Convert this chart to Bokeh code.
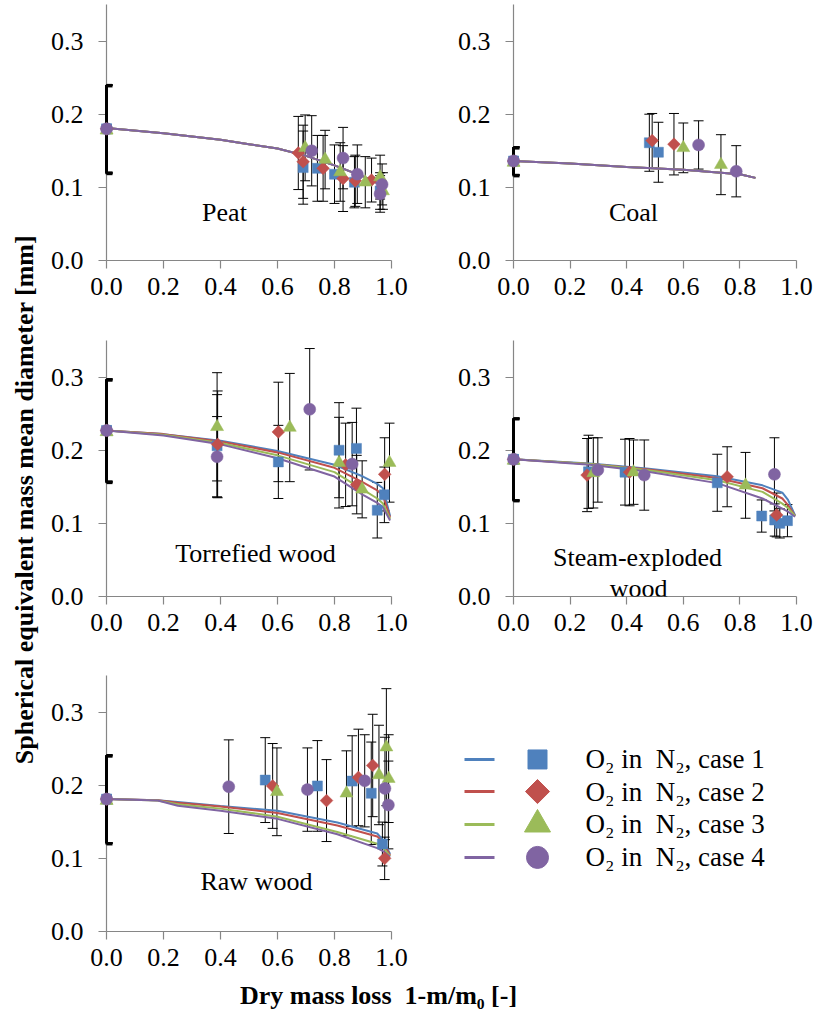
import math
from bokeh.plotting import figure
from bokeh.models import Range1d, FixedTicker, Label, Whisker, TeeHead, ColumnDataSource, NumeralTickFormatter
from bokeh.layouts import row, column
from bokeh.embed import file_html
from bokeh.resources import INLINE
from bokeh.core.properties import value

# ---------------- data ----------------
series_names = ["O\u2082 in\u00a0 N\u2082, case 1", "O\u2082 in\u00a0 N\u2082, case 2",
                "O\u2082 in\u00a0 N\u2082, case 3", "O\u2082 in\u00a0 N\u2082, case 4"]
series_colors = ["#4F81BD", "#C0504D", "#9BBB59", "#8064A2"]
x_ticks = [0.0, 0.2, 0.4, 0.6, 0.8, 1.0]
y_ticks = [0.0, 0.1, 0.2, 0.3]
y_title = "Spherical equivalent mass mean diameter [mm]"
x_title = "Dry mass loss\u00a0 1-m/m\u2080 [-]"

# Peat
peat_x = [[0, 0.69, 0.74, 0.80, 0.87, 0.96],
          [0, 0.673, 0.69, 0.76, 0.83, 0.873, 0.93],
          [0, 0.697, 0.767, 0.82, 0.908, 0.96, 0.97],
          [0, 0.72, 0.83, 0.88, 0.967, 0.96]]
peat_y = [[0.18, 0.127, 0.126, 0.118, 0.107, 0.095],
          [0.18, 0.147, 0.135, 0.126, 0.112, 0.109, 0.11],
          [0.178, 0.154, 0.138, 0.121, 0.107, 0.114, 0.095],
          [0.18, 0.15, 0.14, 0.118, 0.104, 0.091]]
peat_err = [[0.06, 0.05, 0.045, 0.04, 0.035, 0.025],
            [0.06, 0.05, 0.05, 0.045, 0.045, 0.035, 0.03],
            [0.06, 0.045, 0.04, 0.04, 0.035, 0.03, 0.025],
            [0.06, 0.048, 0.042, 0.04, 0.028, 0.025]]
peat_line_x = [0, 0.2, 0.4, 0.5, 0.6, 0.7, 0.8, 0.9, 0.97]
peat_line_y = [[0.181, 0.174, 0.165, 0.159, 0.153, 0.143, 0.130, 0.115, 0.102],
               [0.181, 0.174, 0.165, 0.159, 0.153, 0.143, 0.130, 0.115, 0.102],
               [0.181, 0.174, 0.165, 0.159, 0.153, 0.143, 0.130, 0.115, 0.102],
               [0.181, 0.174, 0.165, 0.159, 0.153, 0.143, 0.130, 0.115, 0.102]]

# Coal
coal_x = [[0, 0.48, 0.512], [0, 0.49, 0.567], [0, 0.60, 0.733], [0, 0.654, 0.787]]
coal_y = [[0.136, 0.161, 0.148], [0.136, 0.164, 0.159], [0.134, 0.154, 0.131], [0.136, 0.158, 0.122]]
coal_err = [[0.019, 0.039, 0.041], [0.019, 0.037, 0.042], [0.019, 0.034, 0.041], [0.019, 0.033, 0.035]]
coal_line_x = [0, 0.2, 0.4, 0.6, 0.8, 0.855]
coal_line_y = [[0.136, 0.1325, 0.128, 0.124, 0.118, 0.113],
               [0.136, 0.1325, 0.128, 0.124, 0.118, 0.113],
               [0.136, 0.1325, 0.128, 0.124, 0.118, 0.113],
               [0.136, 0.1325, 0.128, 0.124, 0.118, 0.113]]

# Torrefied wood
torr_x = [[0, 0.388, 0.603, 0.816, 0.877, 0.95, 0.975],
          [0, 0.39, 0.603, 0.839, 0.878, 0.976],
          [0, 0.388, 0.643, 0.816, 0.897, 0.993],
          [0, 0.388, 0.713, 0.862]]
torr_y = [[0.227, 0.206, 0.184, 0.200, 0.2025, 0.118, 0.139],
          [0.227, 0.208, 0.225, 0.180, 0.153, 0.167],
          [0.225, 0.232, 0.231, 0.183, 0.1465, 0.183],
          [0.227, 0.191, 0.256, 0.181]]
torr_err = [[0.07, 0.07, 0.05, 0.065, 0.055, 0.038, 0.038],
            [0.07, 0.073, 0.068, 0.057, 0.04, 0.05],
            [0.07, 0.074, 0.074, 0.062, 0.039, 0.054],
            [0.07, 0.055, 0.083, 0.057]]
torr_line_x = [0, 0.2, 0.4, 0.6, 0.8, 0.9, 0.95, 0.97, 0.995]
torr_line_y = [[0.227, 0.222, 0.213, 0.199, 0.180, 0.164, 0.154, 0.148, 0.110],
               [0.227, 0.222, 0.212, 0.197, 0.176, 0.156, 0.145, 0.138, 0.108],
               [0.227, 0.221, 0.210, 0.193, 0.170, 0.146, 0.134, 0.127, 0.106],
               [0.227, 0.220, 0.208, 0.189, 0.164, 0.139, 0.128, 0.122, 0.104]]

# Steam-exploded wood
steam_x = [[0, 0.265, 0.394, 0.72, 0.877, 0.923, 0.941, 0.968],
           [0, 0.26, 0.41, 0.755, 0.93],
           [0, 0.282, 0.424, 0.82],
           [0, 0.298, 0.462, 0.922]]
steam_y = [[0.1875, 0.1705, 0.17, 0.1555, 0.110, 0.1046, 0.100, 0.1037],
           [0.1875, 0.166, 0.17, 0.1637, 0.1115],
           [0.186, 0.169, 0.17, 0.152],
           [0.1875, 0.173, 0.166, 0.167]]
steam_err = [[0.056, 0.05, 0.045, 0.039, 0.022, 0.022, 0.02, 0.022],
             [0.056, 0.05, 0.046, 0.041, 0.03],
             [0.056, 0.048, 0.044, 0.045],
             [0.056, 0.044, 0.048, 0.05]]
steam_line_x = [0, 0.27, 0.47, 0.72, 0.88, 0.95, 0.97, 0.995]
steam_line_y = [[0.1875, 0.182, 0.175, 0.1645, 0.152, 0.142, 0.132, 0.111],
                [0.1875, 0.181, 0.174, 0.162, 0.148, 0.134, 0.125, 0.110],
                [0.1875, 0.181, 0.173, 0.159, 0.143, 0.127, 0.121, 0.110],
                [0.1875, 0.180, 0.171, 0.155, 0.134, 0.120, 0.116, 0.109]]

# Raw wood
raw_x = [[0, 0.557, 0.74, 0.862, 0.929, 0.968],
         [0, 0.583, 0.772, 0.884, 0.934, 0.976],
         [0, 0.598, 0.842, 0.956, 0.982, 0.99],
         [0, 0.429, 0.705, 0.906, 0.977, 0.989]]
raw_y = [[0.181, 0.207, 0.199, 0.2056, 0.189, 0.1196],
         [0.181, 0.199, 0.179, 0.2106, 0.227, 0.100],
         [0.179, 0.191, 0.189, 0.214, 0.252, 0.209],
         [0.181, 0.198, 0.194, 0.206, 0.1956, 0.173]]
raw_err = [[0.06, 0.058, 0.062, 0.062, 0.07, 0.03],
           [0.06, 0.058, 0.056, 0.066, 0.07, 0.029],
           [0.06, 0.06, 0.058, 0.068, 0.08, 0.06],
           [0.06, 0.064, 0.057, 0.063, 0.07, 0.06]]
raw_line_x = [0, 0.18, 0.25, 0.4, 0.6, 0.81, 0.95, 0.97, 0.995]
raw_line_y = [[0.181, 0.1795, 0.177, 0.1715, 0.165, 0.149, 0.134, 0.125, 0.106],
              [0.181, 0.1795, 0.176, 0.171, 0.162, 0.145, 0.130, 0.122, 0.104],
              [0.181, 0.179, 0.174, 0.168, 0.157, 0.136, 0.120, 0.115, 0.103],
              [0.181, 0.179, 0.172, 0.165, 0.154, 0.133, 0.114, 0.110, 0.102]]

# ---------------- styling ----------------
FONT = "Liberation Serif"
AXIS_GRAY = "#868686"
MARKERS = ["square", "square", "triangle", "circle"]
ANGLES = [0, math.pi / 4, 0, 0]
SIZES = [10, 9, 13, 12]
LEG_SIZES = [19, 17, 26, 22]


def style_axes(p):
    p.grid.visible = False
    p.outline_line_color = None
    for ax in (p.xaxis[0], p.yaxis[0]):
        ax.axis_line_color = AXIS_GRAY
        ax.axis_line_width = 1.2
        ax.major_tick_line_color = AXIS_GRAY
        ax.major_tick_line_width = 1.2
        ax.major_tick_out = 8
        ax.major_tick_in = 0
        ax.minor_tick_line_color = None
        ax.major_label_text_font = FONT
        ax.major_label_text_font_size = "26px"
        ax.major_label_text_color = "black"
        ax.formatter = NumeralTickFormatter(format="0.0")
    p.xaxis[0].ticker = FixedTicker(ticks=x_ticks)
    p.yaxis[0].ticker = FixedTicker(ticks=y_ticks)
    p.xaxis[0].bounds = (0, 1)
    p.yaxis[0].bounds = (0, 0.35)
    p.xaxis[0].major_label_standoff = 9
    p.yaxis[0].major_label_standoff = 15


def make_panel(xs, ys, errs, lx, lys, labels, border_l, frame_w, border_r, border_t, border_b, xmax):
    p = figure(frame_width=frame_w, frame_height=256,
               min_border_left=border_l, min_border_right=border_r,
               min_border_top=border_t, min_border_bottom=border_b,
               x_range=Range1d(0, xmax), y_range=Range1d(0, 0.35),
               output_backend="svg", toolbar_location=None, title=None)
    style_axes(p)
    cap = 6.0 * xmax / frame_w  # half cap width (6 px) in data units
    edge_sets = []
    # error bars for points inside the plot area
    for i in range(4):
        inner = [k for k, xv in enumerate(xs[i]) if xv > 0]
        edge = [k for k, xv in enumerate(xs[i]) if xv == 0]
        edge_sets.append(edge)
        src = ColumnDataSource(dict(
            x=[xs[i][k] for k in inner],
            upper=[ys[i][k] + errs[i][k] for k in inner],
            lower=[ys[i][k] - errs[i][k] for k in inner]))
        p.add_layout(Whisker(base="x", upper="upper", lower="lower", source=src, level="underlay",
                             line_color="black", line_width=1,
                             upper_head=TeeHead(size=10, line_color="black", line_width=1),
                             lower_head=TeeHead(size=10, line_color="black", line_width=1)))
    # model lines
    for i in range(4):
        p.line(lx, lys[i], line_color=series_colors[i], line_width=2)
    # markers
    for i in range(4):
        p.scatter(xs[i], ys[i], marker=MARKERS[i], size=SIZES[i], angle=ANGLES[i],
                  fill_color=series_colors[i], line_color=series_colors[i], line_width=0.5)
    # error bars of the points lying on the y axis: drawn above the axis line,
    # caps only on the inner side (the outer half is cut by the plot area)
    for i in range(4):
        ex = [xs[i][k] for k in edge_sets[i]]
        eu = [ys[i][k] + errs[i][k] for k in edge_sets[i]]
        el = [ys[i][k] - errs[i][k] for k in edge_sets[i]]
        p.segment(x0=ex, y0=el, x1=ex, y1=eu, line_color="black", line_width=2.5, level="overlay")
        ex2 = [x + cap for x in ex]
        p.segment(x0=ex + ex, y0=eu + el, x1=ex2 + ex2, y1=eu + el,
                  line_color="black", line_width=2, level="overlay")
    for i in range(4):
        ex = [xs[i][k] for k in edge_sets[i]]
        ey = [ys[i][k] for k in edge_sets[i]]
        p.scatter(ex, ey, marker=MARKERS[i], size=SIZES[i], angle=ANGLES[i],
                  fill_color=series_colors[i], line_color=series_colors[i], line_width=0.5,
                  level="overlay")
    for (tx, ty, txt) in labels:
        p.add_layout(Label(x=tx, y=ty, text=txt, text_font=FONT, text_font_size="26px",
                           text_align="center", text_baseline="alphabetic", text_color="black"))
    return p


L_BL, L_FW, L_BR = 61, 294, 40
R_BL, R_FW, R_BR = 73, 291, 13
L_XMAX = L_FW / 285.0
R_XMAX = R_FW / 283.0

peat = make_panel(peat_x, peat_y, peat_err, peat_line_x, peat_line_y,
                  [(0.414, 0.066, "Peat")], L_BL, L_FW, L_BR, 4, 75, L_XMAX)
coal = make_panel(coal_x, coal_y, coal_err, coal_line_x, coal_line_y,
                  [(0.424, 0.066, "Coal")], R_BL, R_FW, R_BR, 4, 75, R_XMAX)
torr = make_panel(torr_x, torr_y, torr_err, torr_line_x, torr_line_y,
                  [(0.523, 0.059, "Torrefied wood")], L_BL, L_FW, L_BR, 5, 74, L_XMAX)
steam = make_panel(steam_x, steam_y, steam_err, steam_line_x, steam_line_y,
                   [(0.438, 0.054, "Steam-exploded"), (0.442, 0.0105, "wood")],
                   R_BL, R_FW, R_BR, 5, 74, R_XMAX)
raw = make_panel(raw_x, raw_y, raw_err, raw_line_x, raw_line_y,
                 [(0.526, 0.069, "Raw wood")], L_BL, L_FW, L_BR, 5, 50, L_XMAX)


def blank_fig(w, h):
    f = figure(width=w, height=h, x_range=Range1d(0, w), y_range=Range1d(0, h),
               min_border=0, output_backend="svg", toolbar_location=None, title=None)
    f.axis.visible = False
    f.grid.visible = False
    f.outline_line_color = None
    return f


# legend figure (right column, third row)
leg = blank_fig(377, 311)
leg_rows_y = [209, 170, 130, 90]
for i in range(4):
    yy = leg_rows_y[i]
    leg.line([24, 54], [yy, yy], line_color=series_colors[i], line_width=3)
    leg.scatter([97], [yy], marker=MARKERS[i], size=LEG_SIZES[i], angle=ANGLES[i],
                fill_color=series_colors[i], line_color=series_colors[i])
    leg.add_layout(Label(x=145, y=yy, text=series_names[i], text_font=FONT,
                         text_font_size="27px", text_align="left", text_baseline="middle",
                         text_color="black"))

# y title figure
ytf = blank_fig(45, 1021)
ytf.add_layout(Label(x=24, y=1021 - 499, text=y_title, text_font=FONT, text_font_size="26px",
                     text_font_style="bold", angle=math.pi / 2, text_align="center",
                     text_baseline="middle", text_color="black"))

# x title figure
xtf = blank_fig(772, 40)
xtf.add_layout(Label(x=333, y=26, text=x_title, text_font=FONT, text_font_size="26px",
                     text_font_style="bold", text_align="center", text_baseline="middle",
                     text_color="black"))

layout = row(ytf, column(row(peat, coal), row(torr, steam), row(raw, leg), xtf))

with open("out.html", "w") as f:
    f.write(file_html(layout, INLINE))
